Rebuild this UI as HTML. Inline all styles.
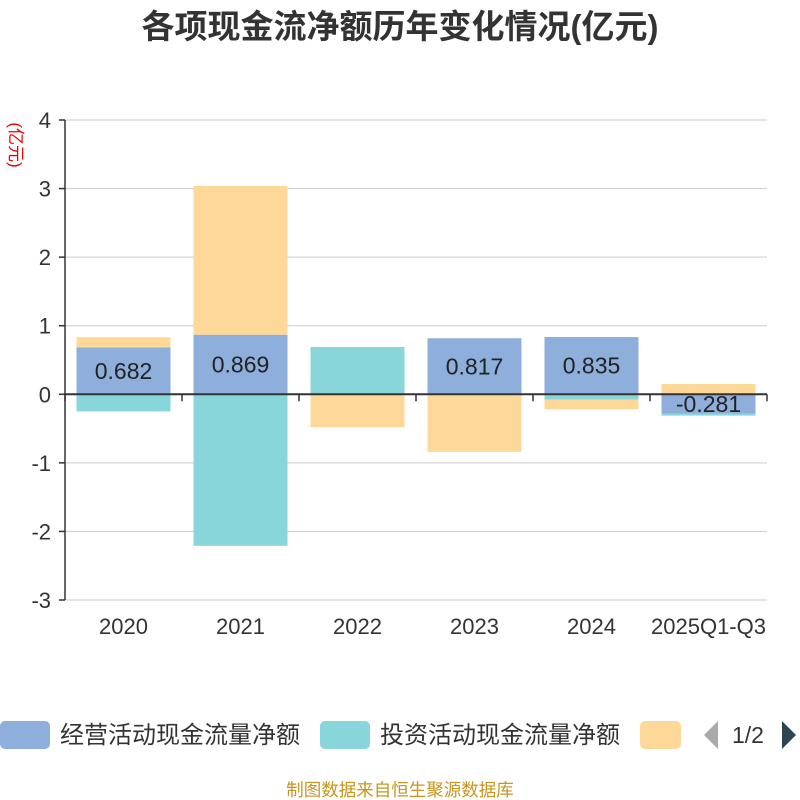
<!DOCTYPE html>
<html><head><meta charset="utf-8"><style>
body{margin:0;background:#fff;}
svg{display:block;font-family:"Liberation Sans","Noto Sans CJK SC",sans-serif;}
</style></head><body>
<svg id="chart" width="800" height="800">
<text x="400" y="38" text-anchor="middle" font-size="33" font-weight="bold" fill="#333">各项现金流净额历年变化情况(亿元)</text>
<text transform="translate(10,145) rotate(90)" text-anchor="middle" font-size="17" fill="#e00">(亿元)</text>
<g id="grid"></g><g id="bars"></g><g id="axes"></g>
<g>
<rect x="0" y="721" width="50" height="28" rx="5" fill="#8eaedb"/>
<text x="60" y="743" font-size="24" fill="#333">经营活动现金流量净额</text>
<rect x="320" y="721" width="50" height="28" rx="5" fill="#88d6d9"/>
<text x="380" y="743" font-size="24" fill="#333">投资活动现金流量净额</text>
<rect x="640" y="721" width="41" height="28" rx="5" fill="#fed898"/>
<path d="M718,721 L704,735 L718,749 Z" fill="#aaa"/>
<text x="732" y="743" font-size="23" fill="#333">1/2</text>
<path d="M782,721 L796,735 L782,749 Z" fill="#2f4554"/>
</g>
<text x="400" y="796" text-anchor="middle" font-size="17.5" fill="#c8951e">制图数据来自恒生聚源数据库</text>
</svg>
<script>
const categories=["2020","2021","2022","2023","2024","2025Q1-Q3"];
const operating=[0.682,0.869,-0.009,0.817,0.835,-0.281];
const investing=[-0.25,-2.21,0.69,-0.01,-0.08,-0.03];
const financing=[0.15,2.17,-0.47,-0.83,-0.14,0.15];
const yTicks=[4,3,2,1,0,-1,-2,-3];
const NS="http://www.w3.org/2000/svg";
const x0=65,x1=767,yTop=120,yBot=600,vMax=4,vMin=-3;
const y=v=>yTop+(vMax-v)/(vMax-vMin)*(yBot-yTop);
const bw=(x1-x0)/categories.length;
const xc=i=>x0+bw*(i+0.5);
function mk(tag,attrs,parent){const e=document.createElementNS(NS,tag);for(const k in attrs)e.setAttribute(k,attrs[k]);parent.appendChild(e);return e;}
const grid=document.getElementById('grid'),bars=document.getElementById('bars'),axes=document.getElementById('axes');
yTicks.forEach(t=>{
 const l=mk('line',{x1:x0,x2:x1,y1:y(t),y2:y(t),stroke:'#ccc','stroke-width':1},grid);
 
 
 const tk=mk('line',{x1:x0-6,x2:x0,y1:y(t),y2:y(t),stroke:'#333','stroke-width':1.5},axes);
 
 
 const tx=mk('text',{x:x0-14,y:y(t)+8,'text-anchor':'end','font-size':22,fill:'#333'},axes);
 tx.textContent=t;
 
 
});
const ya=mk('line',{x1:x0,x2:x0,y1:yTop,y2:yBot,stroke:'#333','stroke-width':1.5},axes);


const xa=mk('line',{x1:x0,x2:x1,y1:y(0),y2:y(0),stroke:'#333','stroke-width':2},axes);


for(let i=0;i<=categories.length;i++){
 const t=mk('line',{x1:x0+bw*i,x2:x0+bw*i,y1:y(0),y2:y(0)+7,stroke:'#333','stroke-width':1.5},axes);
 
 
}
categories.forEach((c,i)=>{
 const t=mk('text',{x:xc(i),y:634,'text-anchor':'middle','font-size':22,fill:'#333'},axes);
 t.textContent=c;
 
 
});
const series=[[operating,'#8eaedb','operating'],[investing,'#88d6d9','investing'],[financing,'#fed898','financing']];
const pos=categories.map(()=>0),neg=categories.map(()=>0);
const w=94;
series.forEach(([vals,col,name])=>{
 vals.forEach((v,i)=>{
  let a,b;
  if(v>=0){a=pos[i];b=a+v;pos[i]=b;}else{a=neg[i];b=a+v;neg[i]=b;}
  const top=Math.min(y(a),y(b)),h=Math.abs(y(a)-y(b));
  const r=mk('rect',{x:xc(i)-w/2,y:top,width:w,height:h,fill:col},bars);
  
  
  if(name==='operating'){
   const t=mk('text',{x:xc(i),y:(y(a)+y(b))/2+8,'text-anchor':'middle','font-size':23,fill:'#222'},bars);
   t.textContent=v;
   
   
  }
 });
});
</script>
</body></html>
